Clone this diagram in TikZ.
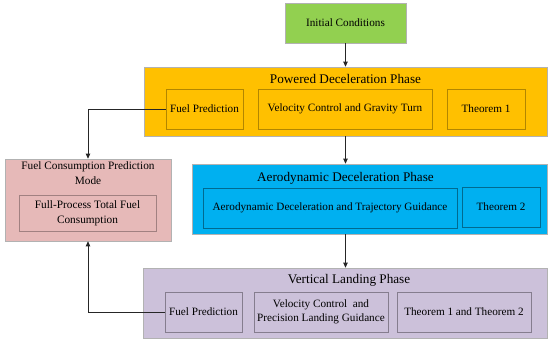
\documentclass[tikz,border=0pt]{standalone}
\usepackage{fontspec}
\setmainfont{Liberation Serif}
\usetikzlibrary{arrows.meta,calc}
\definecolor{cgreen}{HTML}{92D050}
\definecolor{cgold}{HTML}{FFC000}
\definecolor{cpink}{HTML}{E6B9B8}
\definecolor{cblue}{HTML}{00B0F0}
\definecolor{cpurple}{HTML}{CCC1DA}
\tikzset{
  outerbox/.style={draw=black!30, line width=0.7pt, inner sep=0pt, minimum width=#1},
  innerbox/.style={draw=black!45, line width=0.6pt, inner sep=1pt, align=center,
     minimum height=40pt, font=\fontsize{11.2}{13.5}\selectfont},
  titletext/.style={inner sep=0pt, font=\fontsize{13.2}{15}\selectfont},
  conn/.style={draw=black!85, line width=0.8pt, -{Triangle[length=5pt,width=4.5pt]}}
}
\begin{document}
\begin{tikzpicture}[x=1pt,y=-1pt]
\useasboundingbox (0,0) rectangle (550,344);
% Initial
\node[outerbox=121pt, minimum height=40pt, fill=cgreen, font=\fontsize{11.2}{13.5}\selectfont] (init) at (345.5,23) {Initial Conditions};
% Powered
\node[outerbox=403pt, minimum height=69pt, fill=cgold] (pow) at (345.5,101.5) {};
\node[titletext] (powt) at (345.5,79) {Powered Deceleration Phase};
\node[innerbox, fill=cgold, draw=cgold!70!black, minimum width=77pt] (fp1) at (204.5,109) {Fuel Prediction};
\node[innerbox, fill=cgold, draw=cgold!70!black, minimum width=174pt] (vc1) at (345,109) {Velocity Control and Gravity Turn};
\node[innerbox, fill=cgold, draw=cgold!70!black, minimum width=78pt] (th1) at (486,109) {Theorem 1};
% Pink
\node[outerbox=166pt, minimum height=82pt, fill=cpink] (fcp) at (88,200) {};
\node[inner sep=0pt, align=center, font=\fontsize{11.3}{15}\selectfont] (fcpt) at (88,173.5) {Fuel Consumption Prediction\\Mode};
\node[innerbox, fill=cpink, draw=cpink!70!black, minimum width=137pt, minimum height=36pt, font=\fontsize{11.3}{15}\selectfont] (fpt) at (87.5,213) {Full-Process Total Fuel\\Consumption};
% Aero
\node[outerbox=355pt, minimum height=70pt, fill=cblue] (aer) at (369.5,199) {};
\node[titletext] (aert) at (345.5,178) {Aerodynamic Deceleration Phase};
\node[innerbox, fill=cblue, draw=cblue!60!black, minimum width=254pt] (adt) at (330,208) {Aerodynamic Deceleration and Trajectory Guidance};
\node[innerbox, fill=cblue, draw=cblue!60!black, minimum width=78pt] (th2) at (501,207) {Theorem 2};
% Vertical
\node[outerbox=404pt, minimum height=70pt, fill=cpurple] (ver) at (345,303) {};
\node[titletext] (vert) at (349,280.5) {Vertical Landing Phase};
\node[innerbox, fill=cpurple, draw=cpurple!65!black, minimum width=77pt] (fp3) at (203.5,312) {Fuel Prediction};
\node[innerbox, fill=cpurple, draw=cpurple!65!black, minimum width=134pt] (vc3) at (321,312) {Velocity Control\ \ and\\Precision Landing Guidance};
\node[innerbox, fill=cpurple, draw=cpurple!65!black, minimum width=134pt] (th12) at (464,312) {Theorem 1 and Theorem 2};
% connectors
\draw[conn] (init.south) -- (init.south |- pow.north);
\draw[conn] (init.south |- pow.south) -- (init.south |- aer.north);
\draw[conn] (init.south |- aer.south) -- (init.south |- ver.north);
\draw[conn] (fp1.west) -| (fcp.north);
\draw[conn] (fp3.west) -| (fcp.south);
\end{tikzpicture}
\end{document}
